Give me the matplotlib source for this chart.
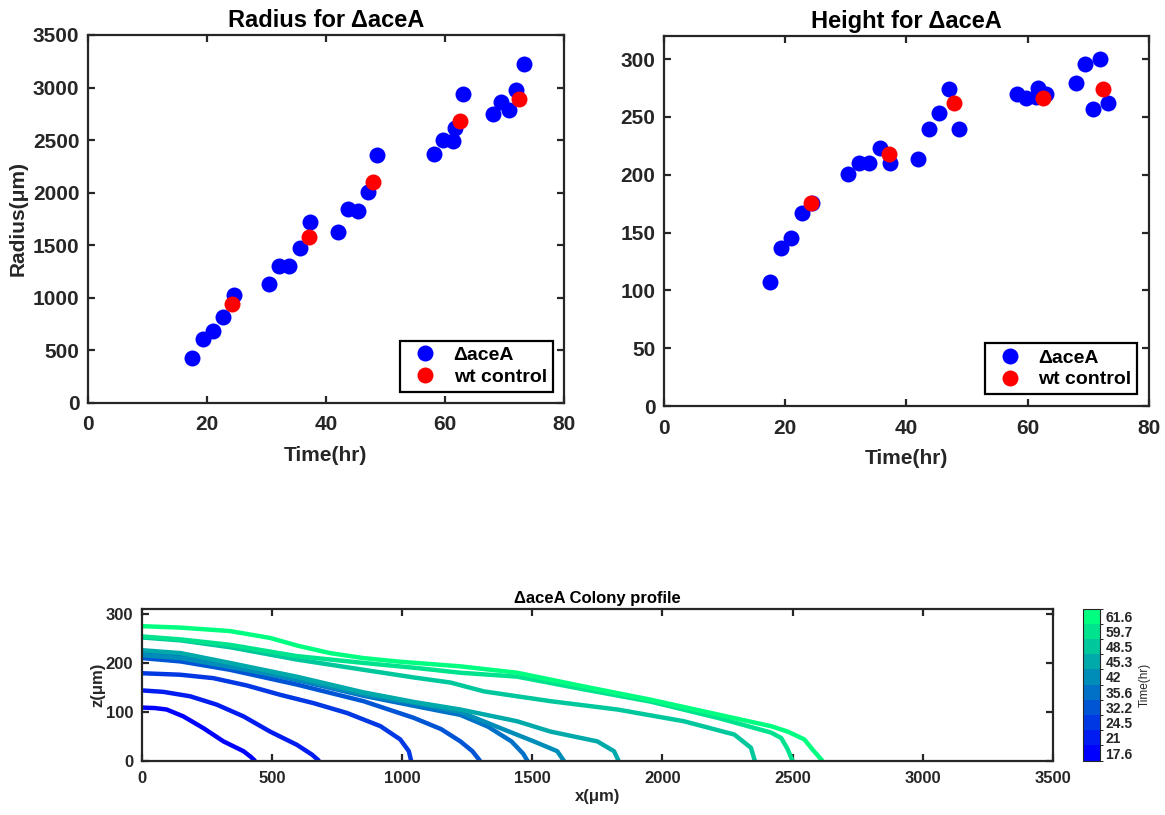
import matplotlib
matplotlib.use("Agg")
import matplotlib.pyplot as plt
import numpy as np
from matplotlib.colors import ListedColormap, BoundaryNorm
import matplotlib.cm as cm

plt.rcParams['font.family'] = ['Liberation Sans', 'DejaVu Sans']
plt.rcParams['font.weight'] = 'bold'

# ---------------- data ----------------
t_mut = [17.5, 19.3, 21.0, 22.8, 24.5, 30.4, 32.2, 33.8, 35.6, 37.3, 42.0, 43.7,
         45.4, 47.0, 48.6, 58.2, 59.7, 61.3, 61.7, 63.0, 68.0, 69.4, 70.8, 72.0, 73.2]
r_mut = [427, 608, 681, 815, 1029, 1133, 1305, 1305, 1477, 1721, 1623, 1843,
         1827, 2008, 2361, 2367, 2501, 2488, 2612, 2937, 2746, 2863, 2784, 2975, 3226]
h_mut = [107, 137, 145, 167, 176, 201, 210, 210, 223, 210, 214, 240,
         253, 274, 240, 270, 266, 267, 275, 270, 279, 296, 257, 300, 262]

t_wt = [24.3, 37.1, 47.9, 62.5, 72.4]
r_wt = [939, 1582, 2103, 2685, 2889]
h_wt = [176, 218, 262, 266, 274]

prof_labels = ['17.6', '21', '24.5', '32.2', '35.6', '42', '45.3', '48.5', '59.7', '61.6']
prof_x = [
    [0, 50, 96, 160, 237, 314, 391, 420, 436],
    [0, 83, 186, 288, 391, 493, 596, 654, 682],
    [0, 147, 275, 404, 532, 660, 788, 917, 993, 1026, 1035],
    [0, 150, 339, 595, 852, 1045, 1150, 1224, 1270, 1300],
    [0, 150, 339, 595, 852, 1050, 1224, 1330, 1420, 1465, 1482],
    [0, 150, 339, 595, 852, 1050, 1224, 1378, 1506, 1596, 1622],
    [0, 150, 339, 595, 852, 1050, 1224, 1442, 1570, 1750, 1814, 1832],
    [0, 150, 339, 595, 852, 1050, 1186, 1314, 1570, 1827, 2083, 2276, 2340, 2355],
    [0, 150, 339, 595, 852, 1050, 1224, 1442, 1699, 1955, 2212, 2417, 2456, 2480, 2500],
    [0, 150, 339, 493, 600, 724, 850, 981, 1224, 1442, 1699, 1955, 2212, 2417, 2481, 2545, 2577, 2615],
]
prof_z = [
    [109, 108, 105, 91, 67, 40, 20, 8, 0],
    [144, 141, 132, 115, 91, 60, 33, 13, 0],
    [179, 176, 169, 154, 135, 118, 98, 71, 44, 20, 0],
    [210, 203, 186, 156, 122, 88, 65, 40, 20, 0],
    [222, 214, 194, 165, 133, 112, 94, 70, 40, 15, 0],
    [216, 210, 192, 167, 136, 118, 100, 67, 40, 20, 0],
    [226, 220, 200, 172, 140, 120, 105, 81, 60, 40, 20, 0],
    [252, 246, 232, 207, 186, 170, 160, 142, 122, 105, 81, 54, 27, 0],
    [254, 248, 237, 214, 200, 190, 180, 172, 146, 121, 88, 58, 47, 25, 0],
    [275, 272, 265, 251, 235, 220, 210, 203, 193, 180, 152, 125, 95, 71, 60, 44, 23, 0],
]

# ---------------- style ----------------
dark = '#262626'
W, H = 1165, 815
fig = plt.figure(figsize=(W / 100, H / 100), dpi=100)


def px_axes(x0, y0, x1, y1):
    return fig.add_axes([x0 / W, 1 - y1 / H, (x1 - x0) / W, (y1 - y0) / H])


def style_axes(ax, fs, xpad):
    for s in ax.spines.values():
        s.set_linewidth(1.6)
        s.set_color(dark)
    ax.tick_params(direction='in', length=5, width=1.6, top=True, right=True,
                   labelsize=fs, colors=dark)
    ax.tick_params(axis='y', pad=6)
    ax.tick_params(axis='x', pad=xpad)
    for lab in ax.get_xticklabels() + ax.get_yticklabels():
        lab.set_fontweight('bold')


ms = 11.5
leg_kw = dict(loc='lower right', borderaxespad=0, fancybox=False, edgecolor='black',
              fontsize=14, handlelength=2.0, handletextpad=0.45, borderpad=0.3,
              labelspacing=0.2, framealpha=1)

# --- Radius ---
ax1 = px_axes(87.7, 35, 564, 403)
ax1.plot(t_mut, r_mut, 'o', color=(0, 0, 1), ms=ms, mec='none', label='ΔaceA')
ax1.plot(t_wt, r_wt, 'o', color=(1, 0, 0), ms=ms, mec='none', label='wt control')
ax1.set_xlim(0, 80)
ax1.set_ylim(0, 3500)
ax1.set_xticks(np.arange(0, 81, 20))
ax1.set_yticks(np.arange(0, 3501, 500))
style_axes(ax1, 15, 9)
ax1.set_title('Radius for ΔaceA', fontsize=17, fontweight='bold', pad=6)
ax1.set_xlabel('Time(hr)', fontsize=15, fontweight='bold', color=dark, labelpad=8)
ax1.set_ylabel('Radius(μm)', fontsize=15, fontweight='bold', color=dark)
leg1 = ax1.legend(bbox_to_anchor=(0.976, 0.031), **leg_kw)
leg1.get_frame().set_linewidth(1.6)

# --- Height ---
ax2 = px_axes(663.7, 36, 1149, 406)
ax2.plot(t_mut, h_mut, 'o', color=(0, 0, 1), ms=ms, mec='none', label='ΔaceA')
ax2.plot(t_wt, h_wt, 'o', color=(1, 0, 0), ms=ms, mec='none', label='wt control')
ax2.set_xlim(0, 80)
ax2.set_ylim(0, 320)
ax2.set_xticks(np.arange(0, 81, 20))
ax2.set_yticks(np.arange(0, 301, 50))
style_axes(ax2, 15, 9)
ax2.set_title('Height for ΔaceA', fontsize=17, fontweight='bold', pad=6)
ax2.set_xlabel('Time(hr)', fontsize=15, fontweight='bold', color=dark, labelpad=8)
leg2 = ax2.legend(bbox_to_anchor=(0.976, 0.032), **leg_kw)
leg2.get_frame().set_linewidth(1.6)

# --- Profile ---
n = len(prof_labels)
winter = plt.get_cmap('winter')
colors = [winter(i / (n - 1)) for i in range(n)]
cmap = ListedColormap(colors)
norm = BoundaryNorm(np.arange(n + 1), n)

ax3 = px_axes(141.7, 609, 1053, 761)
for i in range(n):
    ax3.plot(prof_x[i], prof_z[i], '-', color=colors[i], lw=3.2,
             solid_capstyle='butt', solid_joinstyle='round')
ax3.set_xlim(0, 3500)
ax3.set_ylim(0, 310)
ax3.set_xticks(np.arange(0, 3501, 500))
ax3.set_yticks([0, 100, 200, 300])
style_axes(ax3, 12, 7)
ax3.set_title('ΔaceA Colony profile', fontsize=12, fontweight='bold', pad=4)
ax3.set_xlabel('x(μm)', fontsize=12, fontweight='bold', color=dark, labelpad=2)
ax3.set_ylabel('z(μm)', fontsize=12, fontweight='bold', color=dark, labelpad=0)

cax = px_axes(1083, 608.5, 1100, 760.7)
sm = cm.ScalarMappable(norm=norm, cmap=cmap)
cb = fig.colorbar(sm, cax=cax, ticks=np.arange(n) + 0.5)
cb.ax.set_yticklabels(prof_labels, fontsize=10, fontweight='bold', color=dark)
cb.ax.tick_params(length=0, pad=4)
cb.outline.set_linewidth(0.8)
cb.outline.set_edgecolor(dark)
cb.set_label('Time(hr)', fontsize=8.5, color=dark, fontweight='normal', labelpad=4)

fig.savefig('out.png', dpi=100)
